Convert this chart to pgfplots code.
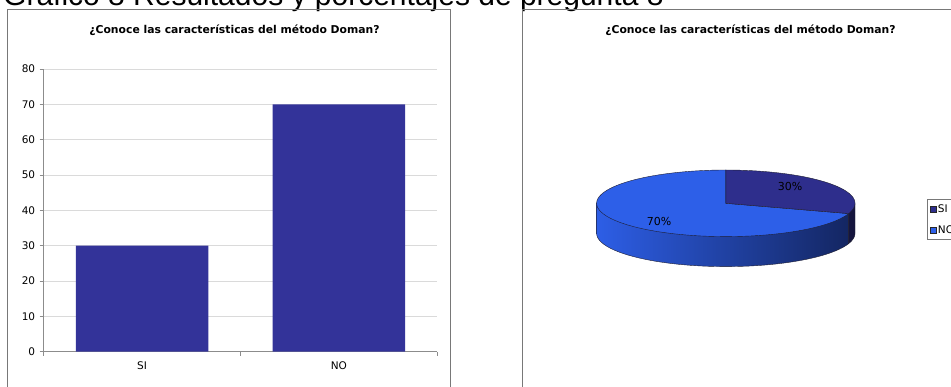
\documentclass[border=0pt]{standalone}
\usepackage{fontspec}
\setmainfont{DejaVu Sans}
\newfontfamily\arialfont{Liberation Sans}
\usepackage{pgfplots}
\pgfplotsset{compat=1.18}
\definecolor{barblue}{RGB}{51,51,153}
\definecolor{siTop}{RGB}{46,46,140}
\definecolor{noTop}{RGB}{45,95,232}
\definecolor{noSideL}{RGB}{45,94,230}
\definecolor{noSideM}{RGB}{34,66,172}
\definecolor{noSideR}{RGB}{20,38,98}
\definecolor{siSide}{RGB}{21,21,62}
\definecolor{edgecol}{RGB}{30,30,50}
\definecolor{axisgray}{RGB}{140,140,140}
\definecolor{gridgray}{RGB}{218,218,218}
\definecolor{framegray}{RGB}{120,120,120}
\begin{document}
\begin{tikzpicture}
\useasboundingbox (0pt,0pt) rectangle (951pt,387pt);
\clip (0pt,0pt) rectangle (951pt,387pt);
% cut-off caption at the top
\node[anchor=base west, inner sep=0pt, font=\arialfont\fontsize{30}{36}\selectfont] at (3pt,381pt) {Gráfico 8 Resultados y porcentajes de pregunta 8};
% chart frames
\draw[framegray, line width=1pt] (7.3pt,-10pt) -- (7.3pt,377.5pt) -- (450.5pt,377.5pt) -- (450.5pt,-10pt);
\draw[framegray, line width=1pt] (522.5pt,-10pt) -- (522.5pt,377.5pt) -- (960pt,377.5pt);
% titles
\node[font=\bfseries\fontsize{10.8}{13}\selectfont] at (234.5pt,357pt) {¿Conoce las características del método Doman?};
\node[font=\bfseries\fontsize{10.8}{13}\selectfont] at (750.5pt,357pt) {¿Conoce las características del método Doman?};

% ---------- bar chart ----------
\begin{axis}[
  at={(43.7pt,35.3pt)}, anchor=south west,
  scale only axis, width=393.6pt, height=282.7pt,
  xmin=-0.5, xmax=1.5, ymin=0, ymax=80,
  axis x line*=bottom, axis y line*=left,
  axis line style={-, draw=axisgray, line width=0.8pt},
  ytick={0,10,...,80},
  ymajorgrids, grid style={draw=gridgray, line width=0.6pt},
  xtick={-0.5,0.5,1.5}, xticklabels={},
  extra x ticks={0,1}, extra x tick labels={SI,NO},
  extra x tick style={grid=none, tick style={draw=none}},
  tick align=outside, major tick length=4pt,
  tick style={draw=axisgray, line width=0.8pt},
  /pgf/number format/assume math mode=true,
  ticklabel style={font=\fontsize{10.5}{12}\selectfont, text=black},
  yticklabel style={xshift=-1pt},
  xticklabel style={yshift=-2.5pt},
  bar width=132.4pt,
]
\addplot[ybar, fill=barblue, draw=none] coordinates {(0,30) (1,70)};
\end{axis}

% ---------- 3D pie ----------
\begin{axis}[
  at={(0pt,0pt)}, anchor=south west,
  scale only axis, width=951pt, height=387pt,
  xmin=0, xmax=951, ymin=0, ymax=387, y dir=reverse,
  hide axis, clip=false,
  legend image code/.code={\draw[#1] (0pt,-2.8pt) rectangle (5.6pt,2.8pt);},
  legend style={at={(axis cs:926.7,199.3)}, anchor=north west,
    draw=framegray, fill=white, font=\fontsize{10.5}{12}\selectfont,
    inner xsep=3pt, inner ysep=3pt, row sep=7.5pt},
  legend cell align=left,
]
% side faces (SI = 30 %, NO = 70 %; slice boundary at 90 - 0.30*360 = -18 deg)
\addplot[forget plot, no markers, left color=noSideL, middle color=noSideM, right color=noSideR,
  draw=edgecol, line width=0.4pt, domain=180:342, samples=60, variable=\t]
  ({725.8+129.2*cos(\t)},{233.3-33.3*sin(\t)}) -- (axis cs:848.67,213.59) -- (axis cs:596.6,203.3) -- cycle;
\addplot[forget plot, no markers, fill=siSide, draw=edgecol, line width=0.4pt,
  domain=342:360, samples=10, variable=\t]
  ({725.8+129.2*cos(\t)},{233.3-33.3*sin(\t)}) -- (axis cs:855,203.3) -- (axis cs:848.67,213.59) -- cycle;
% top faces
\addplot[forget plot, no markers, fill=noTop, draw=edgecol, line width=0.4pt,
  domain=90:342, samples=80, variable=\t]
  ({725.8+129.2*cos(\t)},{203.3-33.3*sin(\t)}) -- (axis cs:725.8,203.3) -- cycle;
\addplot[forget plot, no markers, fill=siTop, draw=edgecol, line width=0.4pt,
  domain=-18:90, samples=40, variable=\t]
  ({725.8+129.2*cos(\t)},{203.3-33.3*sin(\t)}) -- (axis cs:725.8,203.3) -- cycle;
\node[font=\fontsize{11}{12}\selectfont, text=black] at (axis cs:790,186.7) {30\%};
\node[font=\fontsize{11}{12}\selectfont, text=black] at (axis cs:659,221.7) {70\%};
\addlegendimage{draw=black!85, fill=siTop}
\addlegendentry{SI}
\addlegendimage{draw=black!85, fill=noTop}
\addlegendentry{NO}
\end{axis}
\end{tikzpicture}
\end{document}
